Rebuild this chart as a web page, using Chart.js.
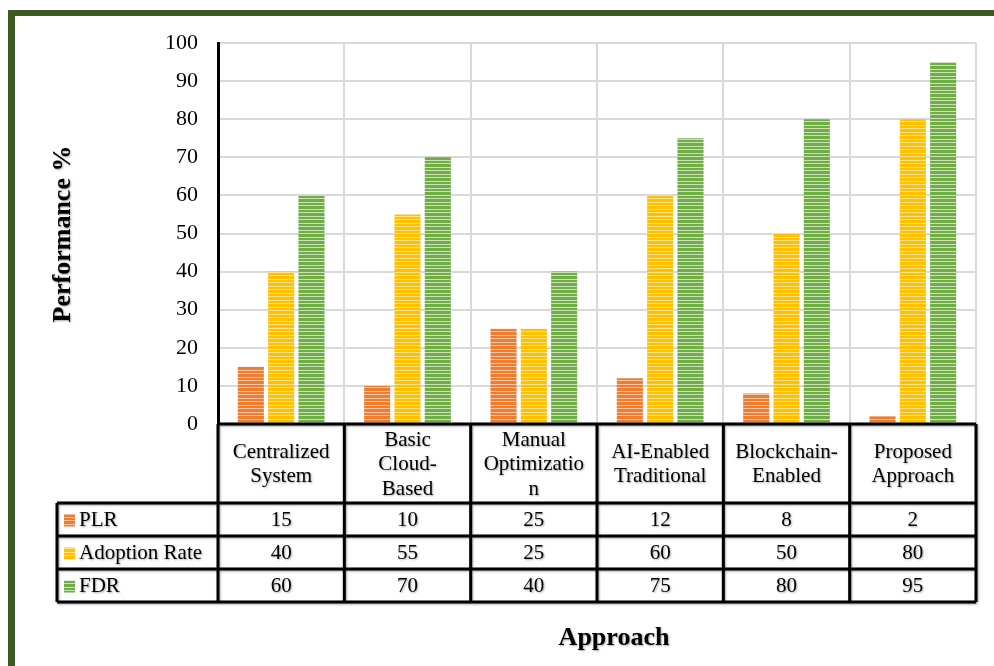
<!DOCTYPE html>
<html>
<head>
<meta charset="utf-8">
<script src="https://cdn.jsdelivr.net/npm/chart.js@4/dist/chart.umd.min.js"></script>
<style>
  html, body { margin: 0; padding: 0; background: #ffffff; overflow: hidden; }
  canvas { display: block; }
</style>
</head>
<body>
<canvas id="chart" width="994" height="666"></canvas>
<script>
// Approaches compared (header cells of the data table, one line per entry)
const categories = [
  ['Centralized', 'System'],
  ['Basic', 'Cloud-', 'Based'],
  ['Manual', 'Optimizatio', 'n'],
  ['AI-Enabled', 'Traditional'],
  ['Blockchain-', 'Enabled'],
  ['Proposed', 'Approach']
];
const seriesNames = ['PLR', 'Adoption Rate', 'FDR'];
const plr = [15, 10, 25, 12, 8, 2];
const adoptionRate = [40, 55, 25, 60, 50, 80];
const fdr = [60, 70, 40, 75, 80, 95];
const yTickValues = [0, 10, 20, 30, 40, 50, 60, 70, 80, 90, 100];

const SERIF = '"Liberation Serif", "Times New Roman", serif';
const baseColors = ['#ED7D31', '#FFC000', '#70AD47'];
const lightColors = ['#F7C4A2', '#FFE28A', '#C9E2B6'];

// Horizontal stripe fill used for the bars and the legend keys
function stripePattern(color, light) {
  const c = document.createElement('canvas');
  c.width = 4; c.height = 7;
  const g = c.getContext('2d');
  g.fillStyle = color;
  g.fillRect(0, 0, 4, 7);
  g.fillStyle = light;
  g.fillRect(0, 2, 4, 1);
  g.fillRect(0, 6, 4, 1);
  return g.createPattern(c, 'repeat');
}
const patterns = baseColors.map((c, i) => stripePattern(c, lightColors[i]));

function withShadow(ctx, on) {
  if (on) {
    ctx.shadowColor = 'rgba(0,0,0,0.35)';
    ctx.shadowBlur = 2;
    ctx.shadowOffsetX = 1;
    ctx.shadowOffsetY = 1;
  } else {
    ctx.shadowColor = 'rgba(0,0,0,0)';
    ctx.shadowBlur = 0;
    ctx.shadowOffsetX = 0;
    ctx.shadowOffsetY = 0;
  }
}

// Green frame, data table under the plot and the axis titles
const frameAndTable = {
  id: 'frameAndTable',
  beforeDraw(chart) {
    const ctx = chart.ctx;
    ctx.save();
    ctx.fillStyle = '#ffffff';
    ctx.fillRect(0, 0, chart.width, chart.height);
    ctx.fillStyle = '#3D5A24';
    ctx.fillRect(8, 10, chart.width - 8, 6);
    ctx.fillRect(8, 10, 7, chart.height - 10);
    ctx.restore();
  },
  afterDraw(chart) {
    const ctx = chart.ctx;
    const x = chart.scales.x;
    const area = chart.chartArea;
    const half = (x.getPixelForValue(1) - x.getPixelForValue(0)) / 2;
    const tableTop = area.bottom;
    const headerBottom = tableTop + 79;
    const rowH = 33;
    const labelLeft = 57;
    const tableBottom = headerBottom + rowH * seriesNames.length;
    const series = [plr, adoptionRate, fdr];

    ctx.save();
    // grid lines of the table
    withShadow(ctx, true);
    ctx.strokeStyle = '#000000';
    ctx.lineWidth = 3;
    ctx.beginPath();
    ctx.moveTo(area.left, tableTop);
    ctx.lineTo(area.right, tableTop);
    for (let r = 0; r <= seriesNames.length; r++) {
      const y = headerBottom + r * rowH;
      ctx.moveTo(labelLeft, y);
      ctx.lineTo(area.right, y);
    }
    ctx.moveTo(labelLeft, headerBottom);
    ctx.lineTo(labelLeft, tableBottom);
    for (let i = 0; i <= categories.length; i++) {
      const bx = i < categories.length ? x.getPixelForValue(i) - half : x.getPixelForValue(i - 1) + half;
      ctx.moveTo(bx, tableTop);
      ctx.lineTo(bx, tableBottom);
    }
    ctx.stroke();

    // header cells
    ctx.fillStyle = '#000000';
    ctx.font = '21px ' + SERIF;
    ctx.textAlign = 'center';
    ctx.textBaseline = 'middle';
    const lineH = 24.5;
    const headerMid = (tableTop + headerBottom) / 2 + 1;
    categories.forEach((lines, i) => {
      const cx = x.getPixelForValue(i);
      const y0 = headerMid - (lines.length - 1) * lineH / 2;
      lines.forEach((t, k) => ctx.fillText(t, cx, y0 + k * lineH));
    });

    // value rows with legend keys
    series.forEach((vals, r) => {
      const cy = headerBottom + r * rowH + rowH / 2 + 1;
      vals.forEach((v, i) => {
        ctx.textAlign = 'center';
        ctx.fillText(String(v), x.getPixelForValue(i), cy);
      });
      withShadow(ctx, false);
      ctx.fillStyle = patterns[r];
      ctx.fillRect(64, cy - 6, 11, 12);
      withShadow(ctx, true);
      ctx.fillStyle = '#000000';
      ctx.textAlign = 'left';
      ctx.fillText(seriesNames[r], 79, cy);
    });

    // axis titles
    ctx.font = 'bold 26px ' + SERIF;
    ctx.textAlign = 'center';
    ctx.textBaseline = 'middle';
    ctx.fillText('Approach', 614, 638);
    ctx.translate(63, 234);
    ctx.rotate(-Math.PI / 2);
    ctx.fillText('Performance %', 0, 0);
    ctx.restore();
  }
};

new Chart(document.getElementById('chart'), {
  type: 'bar',
  data: {
    labels: categories,
    datasets: [
      { label: seriesNames[0], data: plr, backgroundColor: patterns[0] },
      { label: seriesNames[1], data: adoptionRate, backgroundColor: patterns[1] },
      { label: seriesNames[2], data: fdr, backgroundColor: patterns[2] }
    ]
  },
  options: {
    responsive: false,
    animation: false,
    devicePixelRatio: 1,
    layout: { padding: { left: 0, top: 43, right: 18, bottom: 242 } },
    datasets: { bar: { categoryPercentage: 0.72, barPercentage: 0.86, borderWidth: 0 } },
    plugins: { legend: { display: false }, tooltip: { enabled: false }, title: { display: false } },
    scales: {
      x: {
        offset: true,
        ticks: { display: false },
        grid: { color: '#D9D9D9', lineWidth: 2, drawTicks: false, offset: true },
        border: { display: false },
        afterFit(scale) { scale.height = 0; }
      },
      y: {
        min: 0,
        max: 100,
        afterBuildTicks(scale) { scale.ticks = yTickValues.map(v => ({ value: v })); },
        ticks: { color: '#000000', font: { family: SERIF, size: 22 }, padding: 20 },
        grid: { color: '#D9D9D9', lineWidth: 2, drawTicks: false },
        border: { display: true, color: '#000000', width: 3 },
        afterFit(scale) { scale.width = 218; }
      }
    }
  },
  plugins: [frameAndTable]
});
</script>
</body>
</html>
